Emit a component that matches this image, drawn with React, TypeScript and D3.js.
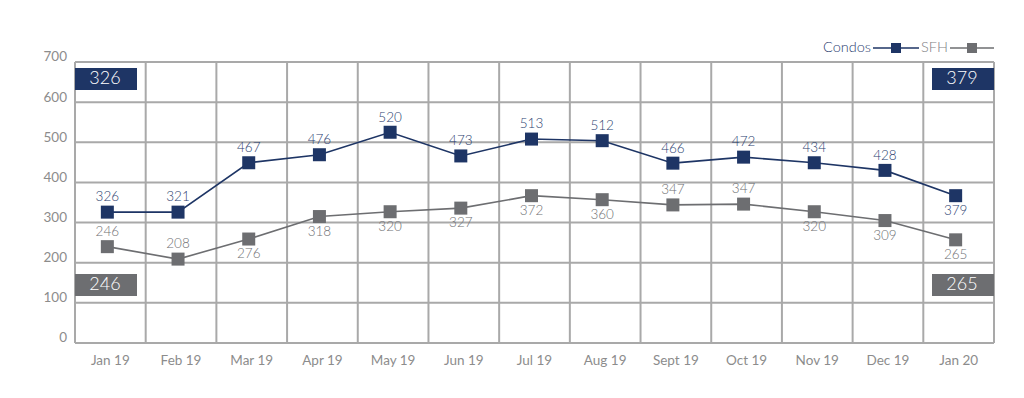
import React, { useEffect, useRef } from 'react';
import * as d3 from 'd3';

const months = ['Jan 19', 'Feb 19', 'Mar 19', 'Apr 19', 'May 19', 'Jun 19', 'Jul 19', 'Aug 19', 'Sept 19', 'Oct 19', 'Nov 19', 'Dec 19', 'Jan 20'];
// where the markers sit in the picture
const condosValues = [326, 326, 449, 469, 525, 466, 508, 504, 448, 463, 449, 430, 367];
const sfhValues = [240, 209, 259, 315, 327, 336, 367, 357, 344, 346, 327, 305, 257];
// the numbers printed next to them
const condosLabels = [326, 321, 467, 476, 520, 473, 513, 512, 466, 472, 434, 428, 379];
const sfhLabels = [246, 208, 276, 318, 320, 327, 372, 360, 347, 347, 320, 309, 265];
const condosLabelAbove = [1, 1, 1, 1, 1, 1, 1, 1, 1, 1, 1, 1, 0];
const sfhLabelAbove = [1, 1, 0, 0, 0, 0, 0, 0, 1, 1, 0, 0, 0];
const yTicks = [0, 100, 200, 300, 400, 500, 600, 700];

const NAVY = '#1e3565';
const GRAY = '#6d6e71';
const GRID = '#a9a9a9';
const TEXT = '#8c8c8c';
const FONT = 'Lato, "Open Sans", sans-serif';

const App = () => {
    const ref = useRef<SVGSVGElement>(null);

    useEffect(() => {
        const svg = d3.select(ref.current);
        svg.selectAll('*').remove();

        const left = 75, right = 994, top = 62, bottom = 343;

        const x = d3.scaleBand().domain(months).range([left, right]);
        const y = d3.scaleLinear().domain([0, 700]).range([bottom, top]);

        const g = svg.append('g');

        // grid
        g.selectAll('hGrid')
            .data(yTicks)
            .join('line')
            .attr('x1', left).attr('x2', right)
            .attr('y1', d => y(d)).attr('y2', d => y(d))
            .attr('stroke', GRID).attr('stroke-width', 2);

        const bounds = months.map(m => x(m)!).concat([right]);
        g.selectAll('vGrid')
            .data(bounds)
            .join('line')
            .attr('x1', d => d).attr('x2', d => d)
            .attr('y1', top).attr('y2', bottom)
            .attr('stroke', GRID).attr('stroke-width', 2);

        // y axis labels
        g.selectAll('yLab')
            .data(yTicks)
            .join('text')
            .attr('x', 67).attr('y', d => y(d) - 4)
            .attr('text-anchor', 'end')
            .attr('dominant-baseline', 'middle')
            .style('font-family', FONT).style('font-size', '13.5px').style('fill', TEXT)
            .text(d => d);

        // x axis labels
        g.selectAll('xLab')
            .data(months)
            .join('text')
            .attr('x', d => x(d)! + x.bandwidth() / 2)
            .attr('y', 362)
            .attr('text-anchor', 'middle')
            .attr('dominant-baseline', 'middle')
            .style('font-family', FONT).style('font-size', '13.5px').style('fill', TEXT)
            .text(d => d);

        const cx = (i: number) => x(months[i])! + x.bandwidth() / 2 - 3;

        const drawSeries = (vals: number[], labels: number[], above: number[], color: string, labelColor: string) => {
            const line = d3.line<number>().x((d, i) => cx(i)).y(d => y(d));
            g.append('path')
                .datum(vals)
                .attr('fill', 'none')
                .attr('stroke', color)
                .attr('stroke-width', 1.6)
                .attr('d', line);

            g.selectAll(null)
                .data(vals)
                .join('rect')
                .attr('x', (d, i) => cx(i) - 6.5)
                .attr('y', d => y(d) - 6.5)
                .attr('width', 13).attr('height', 13)
                .attr('fill', color);

            g.selectAll(null)
                .data(labels)
                .join('text')
                .attr('x', (d, i) => cx(i))
                .attr('y', (d, i) => y(vals[i]) + (above[i] ? -14 : 16))
                .attr('text-anchor', 'middle')
                .attr('dominant-baseline', 'middle')
                .style('font-family', FONT).style('font-weight', 300).style('font-size', '13.5px').style('fill', labelColor)
                .text(d => d);
        };

        drawSeries(sfhValues, sfhLabels, sfhLabelAbove, GRAY, '#707174');
        drawSeries(condosValues, condosLabels, condosLabelAbove, NAVY, '#2c4270');

        // start / end boxes
        const boxes = [
            { v: condosLabels[0], xPos: left, yPos: 68, color: NAVY },
            { v: condosLabels[12], xPos: 932, yPos: 68, color: NAVY },
            { v: sfhLabels[0], xPos: left, yPos: 274, color: GRAY },
            { v: sfhLabels[12], xPos: 932, yPos: 274, color: GRAY },
        ];
        boxes.forEach(b => {
            g.append('rect')
                .attr('x', b.xPos).attr('y', b.yPos)
                .attr('width', 62).attr('height', 22)
                .attr('fill', b.color);
            g.append('text')
                .attr('x', b.xPos + 30).attr('y', b.yPos + 12)
                .attr('text-anchor', 'middle')
                .attr('dominant-baseline', 'middle')
                .style('font-family', FONT).style('font-weight', 300).style('font-size', '18px').style('fill', 'white')
                .text(b.v);
        });

        // legend
        const legend = [
            { name: 'Condos', x0: 873, x1: 919, color: NAVY, textColor: '#2c4270' },
            { name: 'SFH', x0: 950, x1: 994, color: GRAY, textColor: '#808084' },
        ];
        legend.forEach(l => {
            g.append('text')
                .attr('x', l.x0 - 2).attr('y', 48)
                .attr('text-anchor', 'end')
                .attr('dominant-baseline', 'middle')
                .style('font-family', FONT).style('font-weight', 300).style('font-size', '14.5px').style('fill', l.textColor)
                .text(l.name);
            g.append('line')
                .attr('x1', l.x0).attr('x2', l.x1)
                .attr('y1', 48).attr('y2', 48)
                .attr('stroke', l.color).attr('stroke-width', 1.6);
            g.append('rect')
                .attr('x', (l.x0 + l.x1) / 2 - 5).attr('y', 43)
                .attr('width', 10).attr('height', 10)
                .attr('fill', l.color);
        });
    }, []);

    return (
        <svg ref={ref} width={1024} height={398} style={{ position: 'absolute', left: 0, top: 0, background: 'white' }} />
    );
};

export default App;
